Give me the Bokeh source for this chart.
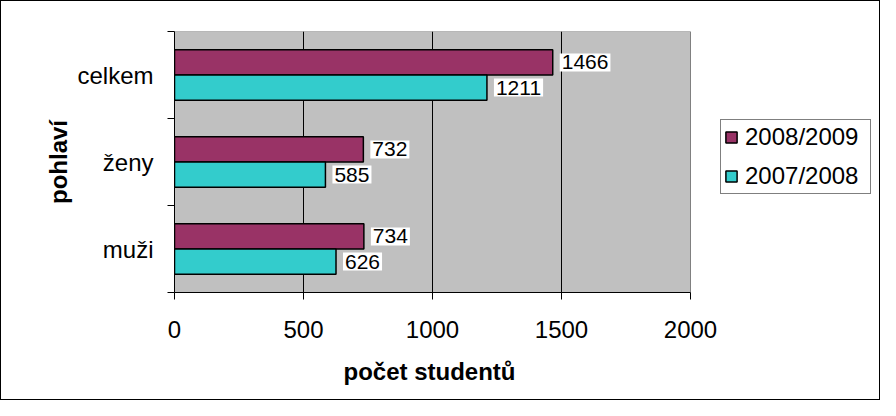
from bokeh.plotting import figure
from bokeh.models import ColumnDataSource, FixedTicker, Legend, LegendItem, Range1d, Title
from bokeh.transform import dodge
from bokeh.core.properties import value
from bokeh.embed import file_html
from bokeh.resources import INLINE

categories = ["muži", "ženy", "celkem"]
series_names = ["2008/2009", "2007/2008"]
values_2008_2009 = [734, 732, 1466]
values_2007_2008 = [626, 585, 1211]
colors = ["#993366", "#33CCCC"]
x_ticks = [0, 500, 1000, 1500, 2000]
x_title = "počet studentů"
y_title = "pohlaví"

FONT = "Liberation Sans"

W, H = 880, 400
LEFT, TOP, BOTTOM = 173, 30, 109
PLOT_W = 516                      # pixel width of the grey plot area
FRAME_W = W - LEFT                 # frame extends to the right edge (room for legend)
x_max = x_ticks[-1]
n_cat = len(categories)

ypos = [i + 0.5 for i in range(n_cat)]
source = ColumnDataSource(dict(
    y=ypos,
    a=values_2008_2009,
    b=values_2007_2008,
    la=[str(v) for v in values_2008_2009],
    lb=[str(v) for v in values_2007_2008],
))

p = figure(width=W, height=H,
           x_range=Range1d(0, x_max * FRAME_W / PLOT_W), y_range=Range1d(0, n_cat),
           output_backend="svg", toolbar_location=None,
           min_border_left=LEFT, min_border_right=0,
           min_border_top=TOP, min_border_bottom=BOTTOM)
p.styles = {"border": "1px solid black"}

p.background_fill_color = "white"
p.border_fill_color = "white"
p.outline_line_color = None

# grey plot area
p.quad(left=[0], right=[x_max], bottom=[0], top=[n_cat],
       fill_color="#C0C0C0", line_color="#808080", line_width=1, level="image")

off = 0.145
h = 0.29
r1 = p.hbar(y=dodge("y", off), left=0, right="a", height=h, source=source,
            fill_color=colors[0], line_color="black", line_width=1.5)
r2 = p.hbar(y=dodge("y", -off), left=0, right="b", height=h, source=source,
            fill_color=colors[1], line_color="black", line_width=1.5)

for col, lab, o in (("a", "la", off), ("b", "lb", -off)):
    p.text(x=col, y=dodge("y", o), text=lab, source=source,
           x_offset=7, text_align="left", text_baseline="middle",
           text_font=value(FONT), text_font_size="21px", text_color="black",
           background_fill_color="white", padding=2)

# x axis
p.xaxis.bounds = (0, x_max)
p.xaxis.ticker = FixedTicker(ticks=x_ticks)
p.xaxis.major_tick_out = 7
p.xaxis.major_tick_in = 0
p.xaxis.minor_tick_line_color = None
p.xaxis.axis_line_color = "black"
p.xaxis.major_tick_line_color = "black"
p.xaxis.major_label_text_font = FONT
p.xaxis.major_label_text_font_size = "24px"
p.xaxis.major_label_text_color = "black"
p.xaxis.major_label_standoff = 21

# x axis title, placed under the grey plot area
xt = Title(text=x_title, align="left", offset=169,
           standoff=31, text_font=FONT, text_font_size="24px",
           text_font_style="bold", text_color="black")
p.add_layout(xt, "below")

# y axis
p.yaxis.ticker = FixedTicker(ticks=ypos, minor_ticks=list(range(n_cat + 1)))
p.yaxis.major_label_overrides = {y: c for y, c in zip(ypos, categories)}
p.yaxis.major_tick_out = 0
p.yaxis.major_tick_in = 0
p.yaxis.minor_tick_out = 7
p.yaxis.minor_tick_in = 0
p.yaxis.minor_tick_line_color = "black"
p.yaxis.axis_line_color = "black"
p.yaxis.major_label_text_font = FONT
p.yaxis.major_label_text_font_size = "24px"
p.yaxis.major_label_text_color = "black"
p.yaxis.major_label_standoff = 14
p.yaxis.axis_label = y_title
p.yaxis.axis_label_text_font = FONT
p.yaxis.axis_label_text_font_size = "24px"
p.yaxis.axis_label_text_font_style = "bold"
p.yaxis.axis_label_text_color = "black"
p.yaxis.axis_label_standoff = 2

p.xgrid.ticker = FixedTicker(ticks=x_ticks[1:-1])
p.xgrid.grid_line_color = "black"
p.xgrid.grid_line_width = 1
p.ygrid.visible = False

legend = Legend(items=[LegendItem(label=series_names[0], renderers=[r1]),
                       LegendItem(label=series_names[1], renderers=[r2])],
                location=(546, 98))
legend.border_line_color = "black"
legend.border_line_width = 1
legend.background_fill_color = "white"
legend.background_fill_alpha = 1
legend.label_text_font = FONT
legend.label_text_font_size = "24px"
legend.label_text_color = "black"
legend.glyph_width = 14
legend.glyph_height = 14
legend.label_standoff = 7
legend.label_width = 122
legend.padding = 3
legend.spacing = 11
legend.margin = 0
p.add_layout(legend)

open("out.html", "w").write(file_html(p, INLINE))
